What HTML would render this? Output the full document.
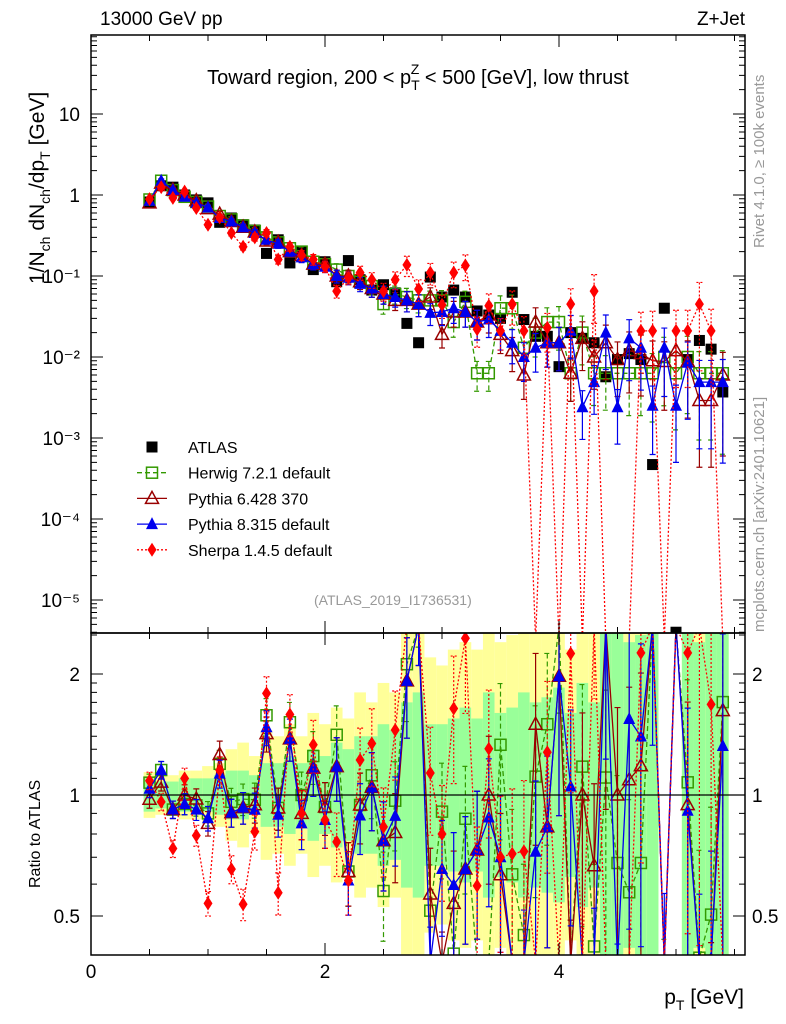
<!DOCTYPE html>
<html><head><meta charset="utf-8"><style>
html,body{margin:0;padding:0;background:#fff;overflow:hidden;width:786px;height:1024px;}
svg{font-family:"Liberation Sans",sans-serif;display:block;overflow:hidden;}
</style></head><body>
<svg id="chart" width="786" height="1024" viewBox="0 0 786 1024" xmlns="http://www.w3.org/2000/svg">
<defs>
<clipPath id="cm"><rect x="91" y="35" width="654" height="598"/></clipPath>
<clipPath id="cr"><rect x="91" y="633" width="654" height="322"/></clipPath>
</defs>
<g id="bands" clip-path="url(#cr)"></g>
<g id="mainmarks" clip-path="url(#cm)"></g>
<g id="ratiomarks" clip-path="url(#cr)"></g>
<g id="axes"></g>
<text x="100" y="25" font-size="19">13000 GeV pp</text>
<text x="745" y="25" font-size="19" text-anchor="end">Z+Jet</text>
<text x="418" y="84" font-size="20" text-anchor="middle">Toward region, 200 &lt; p<tspan font-size="14" dy="6">T</tspan><tspan font-size="14" dx="-9" dy="-16">Z</tspan><tspan dy="10"> &lt; 500 [GeV], low thrust</tspan></text>
<text x="314" y="605" font-size="14" fill="#999">(ATLAS_2019_I1736531)</text>
<text transform="translate(764,248) rotate(-90)" font-size="15" fill="#999">Rivet 4.1.0, ≥ 100k events</text>
<text transform="translate(764,632) rotate(-90)" font-size="15" fill="#999">mcplots.cern.ch [arXiv:2401.10621]</text>
<text transform="translate(44,284) rotate(-90)" font-size="21">1/N<tspan font-size="14" dy="6">ch</tspan><tspan dy="-6"> dN</tspan><tspan font-size="14" dy="6">ch</tspan><tspan dy="-6">/dp</tspan><tspan font-size="14" dy="6">T</tspan><tspan dy="-6"> [GeV]</tspan></text>
<text transform="translate(40,888) rotate(-90)" font-size="16">Ratio to ATLAS</text>
<text x="744" y="1004" font-size="21" text-anchor="end">p<tspan font-size="14" dy="6">T</tspan><tspan dy="-6"> [GeV]</tspan></text>
<g id="legend"></g>
</svg>
<script>
const pts = [0.5,0.6,0.7,0.8,0.9,1.0,1.1,1.2,1.3,1.4,1.5,1.6,1.7,1.8,1.9,2.0,2.1,2.2,2.3,2.4,2.5,2.6,2.7,2.8,2.9,3.0,3.1,3.2,3.3,3.4,3.5,3.6,3.7,3.8,3.9,4.0,4.1,4.2,4.3,4.4,4.5,4.6,4.7,4.8,4.9,5.0,5.1,5.2,5.3,5.4];
const atlas = [0.82,1.3,1.25,1.0,0.87,0.8,0.46,0.52,0.43,0.37,0.19,0.28,0.145,0.2,0.12,0.15,0.085,0.155,0.09,0.067,0.078,0.062,0.026,0.015,0.097,0.055,0.067,0.055,0.037,0.033,0.03,0.063,0.029,0.018,0.018,0.0076,0.02,0.017,0.015,0.0057,0.0093,0.011,0.0093,0.00047,0.04,0.000004,0.0093,0.016,0.0125,0.0037];
const herwig = [0.88,1.5,1.15,0.95,0.82,0.72,0.55,0.5,0.42,0.36,0.3,0.26,0.22,0.2,0.15,0.14,0.12,0.1,0.085,0.075,0.045,0.06,0.055,0.05,0.05,0.05,0.027,0.048,0.0063,0.0063,0.04,0.04,0.013,0.02,0.027,0.027,0.0063,0.02,0.0063,0.0063,0.0063,0.0063,0.0063,0.0063,0.01,0.0063,0.01,0.0063,0.0063,0.0063];
const pythia6 = [0.8,1.4,1.15,1.0,0.85,0.68,0.58,0.47,0.4,0.35,0.27,0.26,0.2,0.18,0.14,0.14,0.1,0.1,0.085,0.07,0.06,0.05,0.05,0.045,0.055,0.019,0.036,0.036,0.027,0.033,0.019,0.012,0.006,0.027,0.015,0.015,0.0063,0.017,0.01,0.015,0.0093,0.012,0.011,0.009,0.0088,0.012,0.0088,0.0029,0.0029,0.006];
const pythia8 = [0.85,1.5,1.15,0.95,0.8,0.7,0.52,0.47,0.4,0.34,0.28,0.25,0.2,0.17,0.14,0.13,0.1,0.095,0.08,0.07,0.06,0.055,0.05,0.045,0.035,0.036,0.04,0.036,0.027,0.029,0.021,0.015,0.01,0.013,0.015,0.015,0.021,0.0024,0.0049,0.02,0.0024,0.017,0.013,0.0025,0.013,0.0025,0.0085,0.0049,0.0049,0.0049];
const sherpa = [0.89,1.25,0.92,1.1,0.69,0.43,0.53,0.34,0.23,0.3,0.34,0.16,0.23,0.18,0.16,0.13,0.065,0.095,0.11,0.09,0.065,0.09,0.137,0.069,0.11,0.044,0.11,0.135,0.022,0.043,0.021,0.045,0.021,0.00000001,0.023,0.00000001,0.045,0.00000001,0.065,0.00000001,0.00000001,0.00000001,0.021,0.021,0.00000001,0.021,0.021,0.045,0.021,0.00000001];
const relErr = [0.05,0.05,0.05,0.06,0.06,0.07,0.08,0.08,0.09,0.1,0.1,0.12,0.12,0.14,0.15,0.15,0.18,0.18,0.2,0.22,0.25,0.25,0.28,0.3,0.3,0.32,0.35,0.35,0.4,0.4,0.42,0.45,0.5,0.5,0.5,0.55,0.55,0.6,0.6,0.65,0.65,0.7,0.7,0.75,0.75,0.8,0.8,0.85,0.85,0.9];
const greenUp = [1.1,1.08,1.08,1.1,1.1,1.1,1.12,1.15,1.15,1.12,1.2,1.2,1.25,1.2,1.3,1.25,1.35,1.3,1.4,1.4,1.5,1.45,1.7,1.8,1.5,1.5,1.55,1.65,1.55,1.8,1.6,1.65,1.8,1.7,1.75,1.85,1.6,1.9,1.7,2.6,2.6,2.4,2.5,2.6,1.0,1.0,2.6,2.4,3,3];
const yellowUp = [1.14,1.12,1.12,1.15,1.15,1.18,1.2,1.3,1.35,1.25,1.45,1.4,1.5,1.4,1.6,1.5,1.65,1.55,1.8,1.7,1.9,1.8,2.6,2.6,2.2,2.1,2.3,2.4,2.3,2.6,2.4,2.5,2.6,2.6,2.6,2.6,2.3,2.6,2.6,2.6,2.6,2.6,2.6,2.6,1.0,1.0,2.6,2.6,2.6,2.6];
const xTicks = [0,2,4];
const yTicks = [10,1,0.1,0.01,0.001,0.0001,0.00001];
const yTickLabels = ["10","1","10⁻¹","10⁻²","10⁻³","10⁻⁴","10⁻⁵"];
const rTicks = [0.5,1,2];

const NS="http://www.w3.org/2000/svg";
const clamp=(v,a,b)=>Math.min(b,Math.max(a,v));
const X = v => 91 + 117*v;
const Y = v => clamp(195 - 81*Math.log10(Math.max(v,1e-9)),28,640);
const R = r => clamp(795 - 121*Math.log2(Math.max(r,1e-4)),626,962);
function mk(tag, attrs, parent){const e=document.createElementNS(NS,tag);for(const k in attrs)e.setAttribute(k,attrs[k]);parent.appendChild(e);return e;}
const main=document.getElementById('mainmarks'), rat=document.getElementById('ratiomarks'), bands=document.getElementById('bands'), axes=document.getElementById('axes'), leg=document.getElementById('legend');

for(let i=0;i<pts.length;i++){
  const x0=X(pts[i]-0.05), w=117*0.1;
  const yb=mk('rect',{x:x0,y:R(yellowUp[i]),width:w,height:R(1/yellowUp[i])-R(yellowUp[i]),fill:'#ffff99'},bands);
  
  
  const gb=mk('rect',{x:x0,y:R(greenUp[i]),width:w,height:R(1/greenUp[i])-R(greenUp[i]),fill:'#99ff99'},bands);
  
  
}

function marker(g,type,x,y,col){
  let e;
  if(type==='sq') e=mk('rect',{x:x-5.5,y:y-5.5,width:11,height:11,fill:'#000'},g);
  else if(type==='osq') e=mk('rect',{x:x-5.5,y:y-5.5,width:11,height:11,fill:'none',stroke:col,'stroke-width':1.5},g);
  else if(type==='otri') e=mk('polygon',{points:`${x},${y-7} ${x-6.5},${y+5} ${x+6.5},${y+5}`,fill:'none',stroke:col,'stroke-width':1.5},g);
  else if(type==='tri') e=mk('polygon',{points:`${x},${y-7} ${x-6},${y+5} ${x+6},${y+5}`,fill:col},g);
  else e=mk('polygon',{points:`${x},${y-7} ${x-4.5},${y} ${x},${y+7} ${x+4.5},${y}`,fill:col},g);
  return e;
}
const series=[
 {name:'herwig',vals:herwig,col:'#339900',type:'osq',dash:'5,3',label:'Herwig 7.2.1 default'},
 {name:'pythia6',vals:pythia6,col:'#990000',type:'otri',dash:'',label:'Pythia 6.428 370'},
 {name:'pythia8',vals:pythia8,col:'#0000ee',type:'tri',dash:'',label:'Pythia 8.315 default'},
 {name:'sherpa',vals:sherpa,col:'#ff0000',type:'dia',dash:'2,2',label:'Sherpa 1.4.5 default'}
];
function drawSeries(g,s,isRatio){
  const yf = isRatio ? (i=>R(s.vals[i]/atlas[i])) : (i=>Y(s.vals[i]));
  let d='';
  pts.forEach((p,i)=>{d+=(i?'L':'M')+X(p).toFixed(1)+','+yf(i).toFixed(1);});
  const ln=mk('path',{d:d,fill:'none',stroke:s.col,'stroke-width':1.3,'stroke-dasharray':s.dash},g);
  
  
  pts.forEach((p,i)=>{
    const v = isRatio ? s.vals[i]/atlas[i] : s.vals[i];
    const f=isRatio?R:Y, x=X(p);
    const hi=f(v*(1+relErr[i])), lo=f(v*Math.max(1-relErr[i],0.02));
    const eb=mk('path',{d:`M${x},${hi}V${lo}M${x-3},${hi}h6M${x-3},${lo}h6`,stroke:s.col,'stroke-width':1.2,'stroke-dasharray':s.dash,fill:'none'},g);
    
    
    const m=marker(g,s.type,x,f(v),s.col);
    
    
  });
}
pts.forEach((p,i)=>{
  const m=marker(main,'sq',X(p),Y(atlas[i]),'#000');
  
  
});
series.forEach(s=>{drawSeries(main,s,false);drawSeries(rat,s,true);});
const ul=mk('line',{x1:91,x2:745,y1:R(1),y2:R(1),stroke:'#000','stroke-width':1.3},axes);



const f1=mk('rect',{x:91,y:35,width:654,height:598,fill:'none',stroke:'#000','stroke-width':1.5},axes);


const f2=mk('rect',{x:91,y:633,width:654,height:322,fill:'none',stroke:'#000','stroke-width':1.5},axes);



for(let v=0;v<=5.6;v+=0.5){
  const x=X(v), L=(Math.abs(v%2)<1e-6)?12:6;
  [[35,1],[633,-1],[633,1],[955,-1]].forEach(([y,dir])=>{
    const t=mk('line',{x1:x,x2:x,y1:y,y2:y+dir*L,stroke:'#000','stroke-width':1},axes);
    
    
  });
}
xTicks.forEach(v=>{
  const t=mk('text',{x:X(v),y:978,'font-size':19,'text-anchor':'middle'},axes);
  t.textContent=v;
  
  
});
for(let e=-6;e<=1;e++){
  for(let k=1;k<10;k++){
    const v=k*Math.pow(10,e), yr=195 - 81*Math.log10(v);
    if(yr<35||yr>633) continue;
    const L=k===1?12:6;
    const t=mk('path',{d:`M91,${yr}h${L}M745,${yr}h${-L}`,stroke:'#000','stroke-width':1},axes);
    
    
  }
}
yTicks.forEach((v,i)=>{
  const t=mk('text',{x:80,y:Y(v)+7,'font-size':19,'text-anchor':'end'},axes);
  t.textContent=yTickLabels[i];
  
  
});
[0.4,0.5,0.6,0.7,0.8,0.9,1,1.1,1.2,1.3,1.4,1.5,1.6,1.7,1.8,1.9,2,2.5].forEach(v=>{
  const y=795 - 121*Math.log2(v); if(y<633||y>955) return;
  const L=(v===0.5||v===1||v===2)?12:6;
  const t=mk('path',{d:`M91,${y}h${L}M745,${y}h${-L}`,stroke:'#000','stroke-width':1},axes);
  
  
});
rTicks.forEach(v=>{
  [[80,'end'],[752,'start']].forEach(([x,a])=>{
    const t=mk('text',{x:x,y:R(v)+7,'font-size':19,'text-anchor':a},axes);
    t.textContent=v;
    
    
  });
});
const legItems=[{type:'sq',col:'#000',dash:'',label:'ATLAS'}].concat(series);
legItems.forEach((s,i)=>{
  const y=447+i*25.7;
  if(i>0){
    const l=mk('line',{x1:137,x2:167,y1:y,y2:y,stroke:s.col,'stroke-width':1.3,'stroke-dasharray':s.dash},leg);
    
    
  }
  const m=marker(leg,s.type,152,y,s.col);
  
  
  const t=mk('text',{x:188,y:y+6,'font-size':16},leg);
  t.textContent=s.label;
  
  
});
</script>
</body></html>
